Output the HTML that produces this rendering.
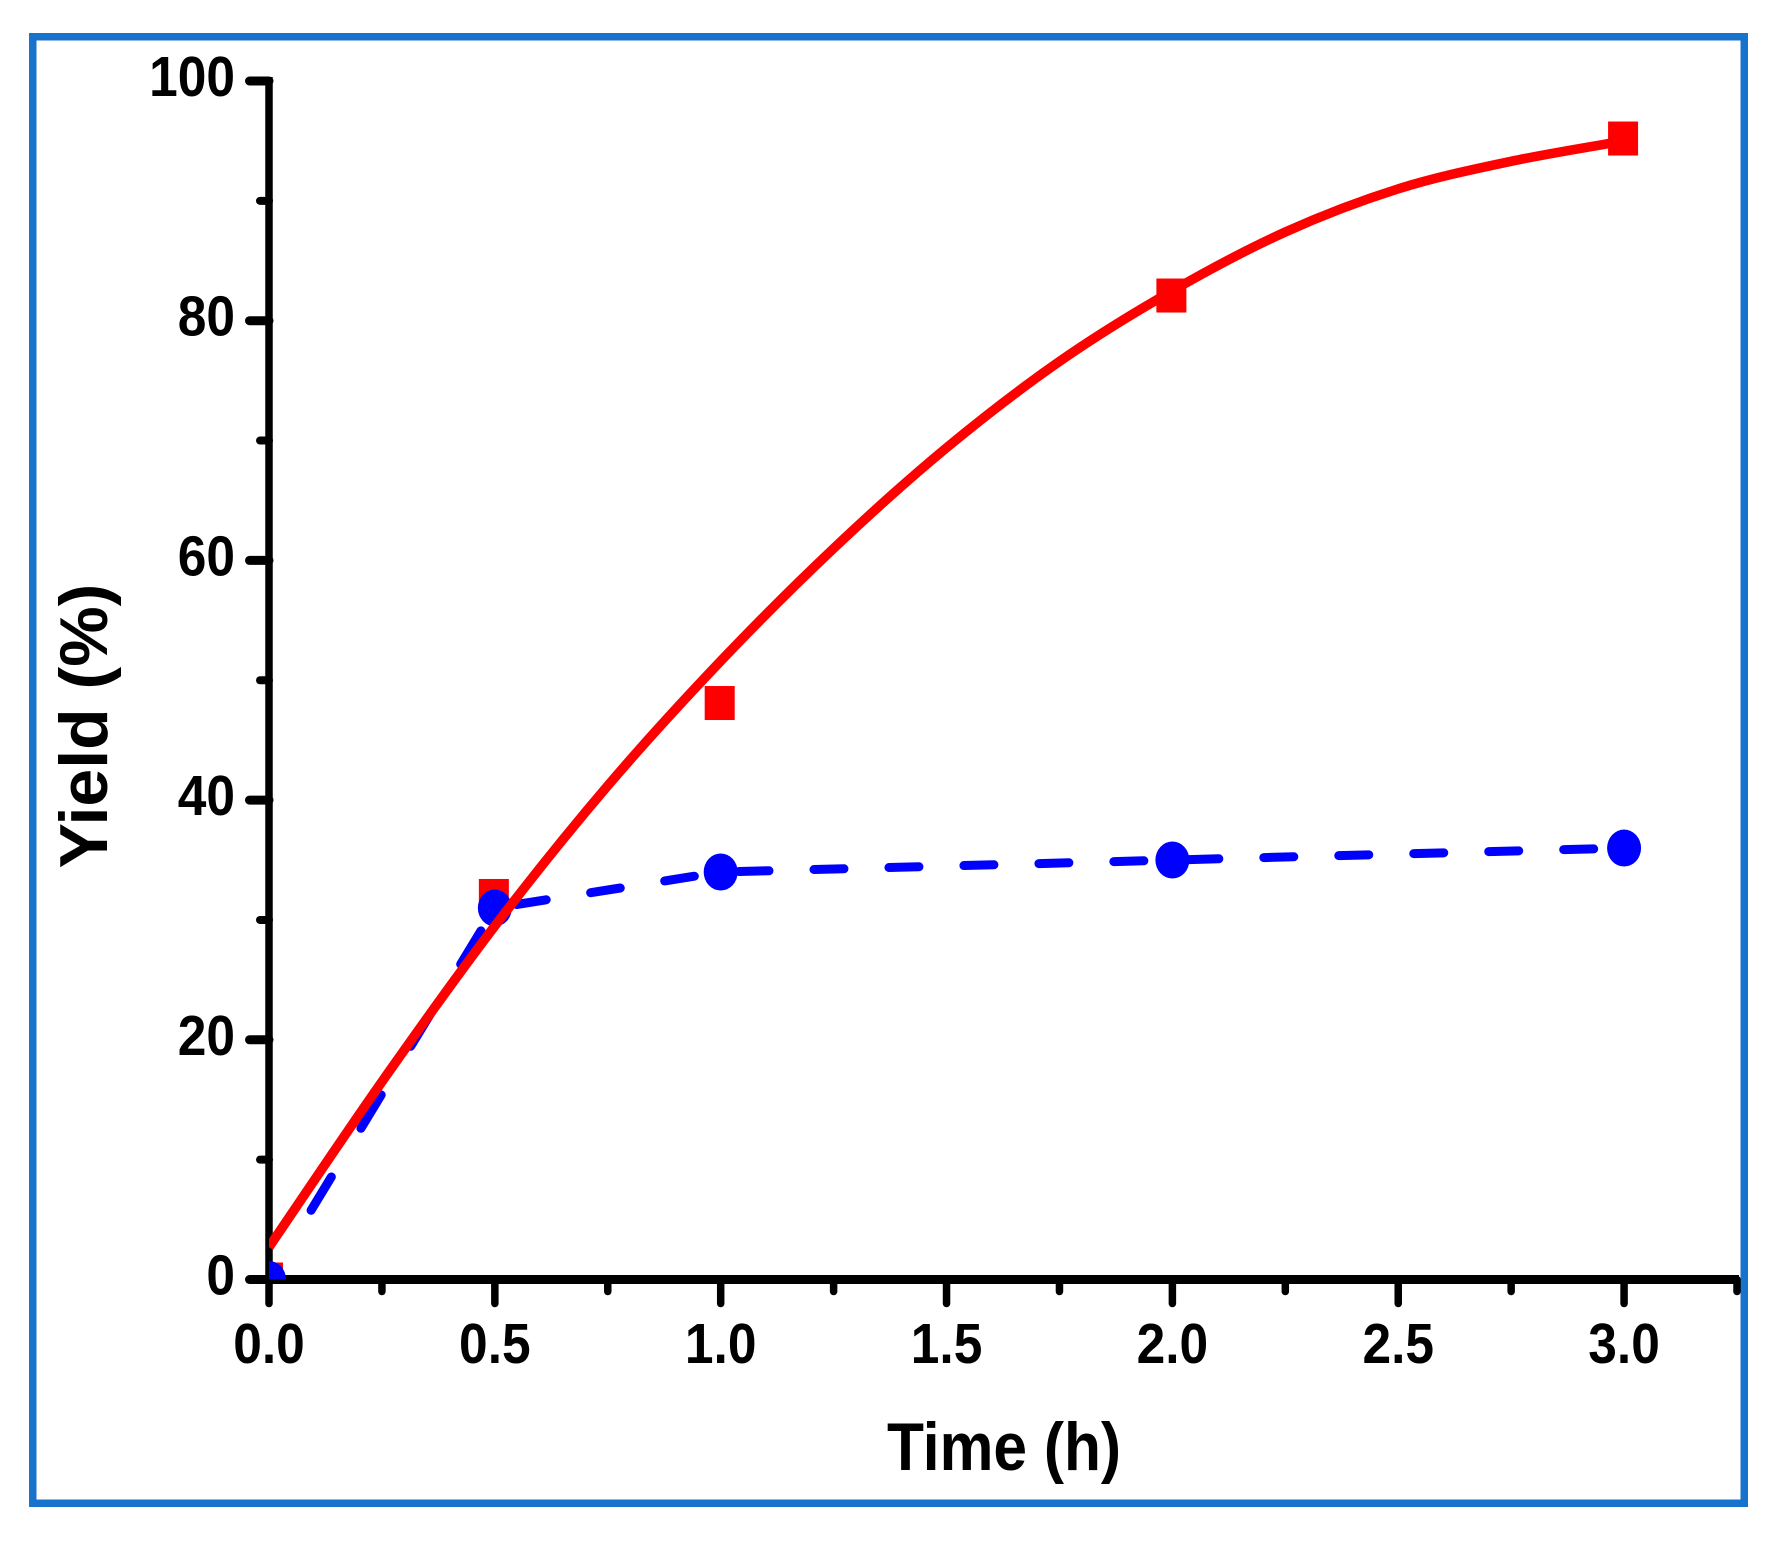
<!DOCTYPE html>
<html>
<head>
<meta charset="utf-8">
<style>
html,body{margin:0;padding:0;background:#fff;}
svg{display:block;}
text{font-family:"Liberation Sans",Arial,sans-serif;font-weight:bold;fill:#000;}
</style>
</head>
<body>
<svg id="chart" xmlns="http://www.w3.org/2000/svg" width="1782" height="1542" viewBox="0 0 1782 1542">
<defs><clipPath id="plot-clip"><rect x="269" y="40" width="1470" height="1239.5"/></clipPath></defs>
<rect x="0" y="0" width="1782" height="1542" fill="#fff"/>
<rect x="32.75" y="36.75" width="1711.5" height="1466.5" fill="none" stroke="#1873cc" stroke-width="7.5"/>
<g id="axes"></g>
<g id="series" clip-path="url(#plot-clip)"></g>
<g id="labels"></g>
<text transform="translate(1004,1470) scale(1,1.12)" text-anchor="middle" font-size="60.5">Time (h)</text>
<text transform="translate(107,726) rotate(-90)" text-anchor="middle" font-size="68">Yield (%)</text>
</svg>
<script>
const times = [0, 0.5, 1, 2, 3];
const redValues = [0, 32, 48.1, 82.1, 95.2];
const blueValues = [0, 31, 34, 35, 36];
const fitTimes = [0, 0.25, 0.5, 0.75, 1, 1.25, 1.5, 1.75, 2, 2.25, 2.5, 2.75, 3];
const fitValues = [2.7, 16.5, 29.5, 41.2, 51.6, 61, 69.4, 76.6, 82.5, 87.4, 91, 93.3, 95];
const xMajorTicks = [0, 0.5, 1, 1.5, 2, 2.5, 3];
const xMajorLabels = ['0.0', '0.5', '1.0', '1.5', '2.0', '2.5', '3.0'];
const xMinorTicks = [0.25, 0.75, 1.25, 1.75, 2.25, 2.75, 3.25];
const yMajorTicks = [0, 20, 40, 60, 80, 100];
const yMajorLabels = ['0', '20', '40', '60', '80', '100'];
const yMinorTicks = [10, 30, 50, 70, 90];
const xMin = 0, xMax = 3.25, yMin = 0, yMax = 100;

const NS = 'http://www.w3.org/2000/svg';
const xPos = t => 269 + (t - xMin) / (xMax - xMin) * 1468;
const yPos = v => 1279.5 - (v - yMin) / (yMax - yMin) * 1198.5;
const axes = document.getElementById('axes');
const series = document.getElementById('series');
const labels = document.getElementById('labels');

function make(tag, attrs, parent) {
  const el = document.createElementNS(NS, tag);
  for (const k in attrs) el.setAttribute(k, attrs[k]);
  parent.appendChild(el);
  return el;
}
function tickStyle(w) {
  return { stroke: '#000', 'stroke-width': w, 'stroke-linecap': 'round' };
}

// axes
const yAxis = make('line', { x1: xPos(0), y1: yPos(100) - 4, x2: xPos(0), y2: yPos(0), stroke: '#000', 'stroke-width': 7.5 }, axes);


const xAxis = make('line', { x1: xPos(0), y1: yPos(0), x2: xPos(3.25) + 2, y2: yPos(0), stroke: '#000', 'stroke-width': 9 }, axes);



xMajorTicks.forEach((t, i) => {
  const tick = make('line', Object.assign({ x1: xPos(t), y1: yPos(0), x2: xPos(t), y2: 1303.5 }, tickStyle(7.5)), axes);
  
  
  const lab = make('text', { x: 0, y: 0, transform: 'translate(' + xPos(t) + ',1363) scale(1,1.09)', 'text-anchor': 'middle', 'font-size': 51.5 }, labels);
  lab.textContent = xMajorLabels[i];
  
  
});
xMinorTicks.forEach(t => {
  const tick = make('line', Object.assign({ x1: xPos(t), y1: yPos(0), x2: xPos(t), y2: 1291.5 }, tickStyle(7.5)), axes);
  
  
});
yMajorTicks.forEach((v, i) => {
  const tick = make('line', Object.assign({ x1: 249.5, y1: yPos(v), x2: xPos(0), y2: yPos(v) }, tickStyle(9)), axes);
  
  
  const lab = make('text', { x: 0, y: 0, transform: 'translate(235,' + (yPos(v) + 15) + ') scale(1,1.09)', 'text-anchor': 'end', 'font-size': 51.5 }, labels);
  lab.textContent = yMajorLabels[i];
  
  
});
yMinorTicks.forEach(v => {
  const tick = make('line', Object.assign({ x1: 260, y1: yPos(v), x2: xPos(0), y2: yPos(v) }, tickStyle(8)), axes);
  
  
});

// red square markers
times.forEach((t, i) => {
  const sq = make('rect', { x: xPos(t) - 16, y: yPos(redValues[i]) - 17, width: 30, height: 34, fill: '#ff0000' }, series);
  
  
});

// blue dashed segments
const firstSeg = make('path', {
  d: 'M' + xPos(times[0]) + ' ' + yPos(blueValues[0]) + 'L' + xPos(times[1]) + ' ' + yPos(blueValues[1]),
  fill: 'none', stroke: '#0000ff', 'stroke-width': 9, 'stroke-linecap': 'round',
  'stroke-dasharray': '0 81 39 57 39 57 39 57 39 200'
}, series);


let restPath = '';
times.slice(1).forEach((t, i) => {
  restPath += (i ? 'L' : 'M') + xPos(t) + ' ' + yPos(blueValues[i + 1]);
});
const restSeg = make('path', {
  d: restPath, fill: 'none', stroke: '#0000ff', 'stroke-width': 9, 'stroke-linecap': 'round',
  'stroke-dasharray': '30 45', 'stroke-dashoffset': '-22'
}, series);



// blue circle markers
times.forEach((t, i) => {
  const c = make('ellipse', { cx: xPos(t), cy: yPos(blueValues[i]), rx: 17, ry: 18.5, fill: '#0000ff' }, series);
  
  
});

// red fit curve (Catmull-Rom through the read points)
const pts = fitTimes.map((t, i) => [xPos(t), yPos(fitValues[i])]);
let d = 'M' + pts[0][0] + ' ' + pts[0][1];
for (let i = 0; i < pts.length - 1; i++) {
  const p0 = pts[Math.max(i - 1, 0)], p1 = pts[i], p2 = pts[i + 1], p3 = pts[Math.min(i + 2, pts.length - 1)];
  d += 'C' + (p1[0] + (p2[0] - p0[0]) / 6) + ' ' + (p1[1] + (p2[1] - p0[1]) / 6) + ' ' +
       (p2[0] - (p3[0] - p1[0]) / 6) + ' ' + (p2[1] - (p3[1] - p1[1]) / 6) + ' ' + p2[0] + ' ' + p2[1];
}
const fit = make('path', { d: d, fill: 'none', stroke: '#ff0000', 'stroke-width': 9.5 }, series);


</script>
</body>
</html>
